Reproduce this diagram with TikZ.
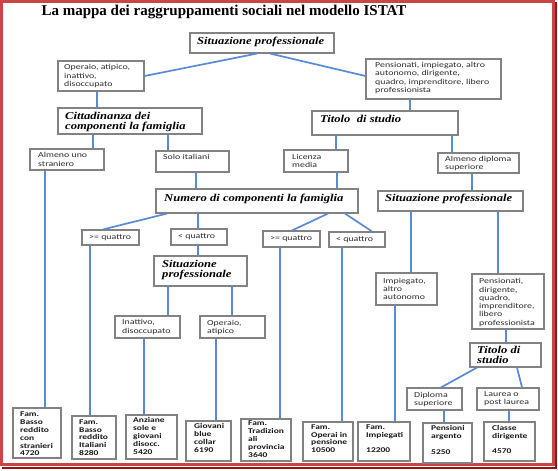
\documentclass[tikz,border=0pt]{standalone}
\usepackage{fontspec}
\setmainfont{Liberation Serif}
\newfontfamily\boxf[FakeStretch=1.3]{Carlito}
\newfontfamily\hdrf[FakeStretch=1.2]{Liberation Serif}
\definecolor{boxgray}{RGB}{130,130,130}
\definecolor{textgray}{RGB}{45,45,45}
\definecolor{connblue}{RGB}{88,138,215}
\definecolor{framelight}{RGB}{200,70,70}
\definecolor{framedark}{RGB}{150,20,20}
\tikzset{
  box/.style={draw=boxgray, line width=1.1pt, fill=white, inner sep=0pt},
  conn/.style={draw=connblue, line width=1.7pt},
  txt/.style={font=\boxf\fontsize{7.6}{8.3}\selectfont, text=textgray, align=left, inner sep=0pt, anchor=north west},
  hdr/.style={font=\hdrf\bfseries\itshape\fontsize{10.5}{10}\selectfont, text=black, align=left, inner sep=0pt, anchor=north west},
  bld/.style={font=\boxf\bfseries\fontsize{7.3}{7.8}\selectfont, text=black!90, align=left, inner sep=0pt, anchor=north west},
  ttl/.style={font=\bfseries\fontsize{15}{16}\selectfont, text=black, inner sep=0pt, anchor=base},
}
% name, x1, y1, x2, y2, text style, text x, text y, text
\newcommand\B[9]{%
  \node[box, minimum width={#4-#2}, minimum height={#5-#3}] (#1) at ({(#2+#4)/2},{(#3+#5)/2}) {};
  \node[#6] (#1-t) at (#7,#8) {#9};
}
\begin{document}
\begin{tikzpicture}[x=1pt,y=-1pt]
\useasboundingbox (0,0) rectangle (558,471);
\fill[white] (0,0) rectangle (558,471);
% frame
\draw[framelight, line width=3pt] (1.5,1.5) rectangle (553,464.5);
\draw[framedark, line width=2pt] (555.5,2) -- (555.5,467.5) -- (2,467.5);
% title
\node[ttl] (title) at (224,15.5) {La mappa dei raggruppamenti sociali nel modello ISTAT};

% boxes
\B{sp1}{190}{33}{334}{53}{hdr}{197}{37}{Situazione professionale}
\B{op}{58}{61}{144}{91}{txt}{64}{64.3}{Operaio, atipico,\\inattivo,\\disoccupato}
\B{pens}{366}{59}{501}{99}{txt}{375}{62}{Pensionati, impiegato, altro\\autonomo, dirigente,\\quadro, imprenditore, libero\\professionista}
\B{cit}{58}{108}{202}{134}{hdr}{65}{112.5}{Cittadinanza dei\\componenti la famiglia}
\B{tit1}{312}{111}{458}{135}{hdr}{320}{115}{Titolo\ \ di studio}
\B{almu}{30}{149}{104}{170}{txt}{38}{152.3}{Almeno uno\\straniero}
\B{solo}{156}{151}{229}{172}{txt}{163}{154.3}{Solo italiani}
\B{lic}{284}{150}{348}{172}{txt}{292}{154}{Licenza\\media}
\B{almd}{438}{153}{519}{173}{txt}{445}{156}{Almeno diploma\\superiore}
\B{num}{156}{189}{358}{213}{hdr}{164}{193.7}{Numero di componenti la famiglia}
\B{sp2}{378}{191}{523}{211}{hdr}{385}{194.3}{Situazione professionale}
\B{ge1}{82}{230}{139}{245}{txt,anchor=west}{89}{237.5}{>= quattro}
\B{lt1}{171}{229}{227}{245}{txt,anchor=west}{178}{237}{< quattro}
\B{ge2}{263}{231}{320}{247}{txt,anchor=west}{270}{239}{>= quattro}
\B{lt2}{329}{232}{385}{247}{txt,anchor=west}{336}{239.5}{< quattro}
\B{sp3}{154}{256}{247}{286}{hdr}{162}{260.3}{Situazione\\professionale}
\B{imp}{376}{273}{437}{305}{txt}{383}{277.6}{Impiegato,\\altro\\autonomo}
\B{pens2}{472}{274}{544}{329}{txt}{479}{278.3}{Pensionati,\\dirigente,\\quadro,\\imprenditore,\\libero\\professionista}
\B{inat}{115}{316}{180}{338}{txt}{122}{319.3}{Inattivo,\\disoccupato}
\B{opa}{200}{316}{265}{338}{txt}{207}{320}{Operaio,\\atipico}
\B{tit2}{470}{343}{541}{367}{hdr}{477}{346}{Titolo di\\studio}
\B{dip}{407}{388}{462}{410}{txt}{414}{391.6}{Diploma\\superiore}
\B{lau}{477}{388}{539}{410}{txt}{484}{391.6}{Laurea o\\post laurea}
% leaves
\B{b1}{13}{408}{61}{458}{bld}{20}{412}{Fam.\\Basso\\reddito\\con\\stranieri\\4720}
\B{b2}{72}{416}{116}{459}{bld}{79}{419.3}{Fam.\\Basso\\reddito\\Italiani\\8280}
\B{b3}{126}{415}{177}{459}{bld}{133}{417.6}{Anziane\\sole e\\giovani\\disocc.\\5420}
\B{b4}{186}{421}{231}{461}{bld}{194}{423.3}{Giovani\\blue\\collar\\6190}
\B{b5}{241}{419}{291}{461}{bld}{248}{421}{Fam.\\Tradizion\\ali\\provincia\\3640}
\B{b6}{303}{422}{353}{461}{bld}{311}{424.3}{Fam.\\Operai in\\pensione\\10500}
\B{b7}{358}{422}{410}{461}{bld}{366}{424.3}{Fam.\\Impiegati\\~\\12200}
\B{b8}{423}{423}{472}{463}{bld}{431}{425.3}{Pensioni\\argento\\~\\5250}
\B{b9}{484}{422}{535}{461}{bld}{492}{425}{Classe\\dirigente\\~\\4570}

% connectors
\draw[conn] (sp1.south -| 257,0) -- (op.east |- 0,76);
\draw[conn] (sp1.south -| 270,0) -- (pens.west |- 0,76);
\draw[conn] (op.south -| 97,0) -- (cit.north -| 97,0);
\draw[conn] (pens.south -| 410,0) -- (tit1.north -| 410,0);
\draw[conn] (cit.south -| 93,0) -- (almu.north -| 93,0);
\draw[conn] (cit.south -| 168,0) -- (solo.north -| 168,0);
\draw[conn] (tit1.south -| 336,0) -- (lic.north -| 336,0);
\draw[conn] (tit1.south -| 452,0) -- (almd.north -| 452,0);
\draw[conn] (almu.south -| 45,0) -- (b1.north -| 45,0);
\draw[conn] (solo.south -| 196,0) -- (num.north -| 196,0);
\draw[conn] (lic.south -| 337,0) -- (num.north -| 337,0);
\draw[conn] (almd.south -| 472,0) -- (sp2.north -| 472,0);
\draw[conn] (num.south -| 167,0) -- (ge1.north -| 103,0);
\draw[conn] (num.south -| 198,0) -- (lt1.north -| 198,0);
\draw[conn] (num.south -| 328,0) -- (ge2.north -| 292,0);
\draw[conn] (num.south -| 345,0) -- (lt2.north -| 372,0);
\draw[conn] (ge1.south -| 90,0) -- (b2.north -| 90,0);
\draw[conn] (lt1.south -| 198,0) -- (sp3.north -| 198,0);
\draw[conn] (sp3.south -| 168,0) -- (inat.north -| 168,0);
\draw[conn] (sp3.south -| 232,0) -- (opa.north -| 232,0);
\draw[conn] (inat.south -| 144,0) -- (b3.north -| 144,0);
\draw[conn] (opa.south -| 216,0) -- (b4.north -| 216,0);
\draw[conn] (ge2.south -| 280,0) -- (b5.north -| 280,0);
\draw[conn] (lt2.south -| 342,0) -- (b6.north -| 342,0);
\draw[conn] (sp2.south -| 411,0) -- (imp.north -| 411,0);
\draw[conn] (sp2.south -| 498,0) -- (pens2.north -| 498,0);
\draw[conn] (imp.south -| 395,0) -- (b7.north -| 395,0);
\draw[conn] (pens2.south -| 506,0) -- (tit2.north -| 506,0);
\draw[conn] (tit2.south -| 477,0) -- (dip.north -| 441,0);
\draw[conn] (tit2.south -| 517,0) -- (lau.north -| 522,0);
\draw[conn] (dip.south -| 444,0) -- (b8.north -| 444,0);
\draw[conn] (lau.south -| 509,0) -- (b9.north -| 509,0);
\end{tikzpicture}
\end{document}
